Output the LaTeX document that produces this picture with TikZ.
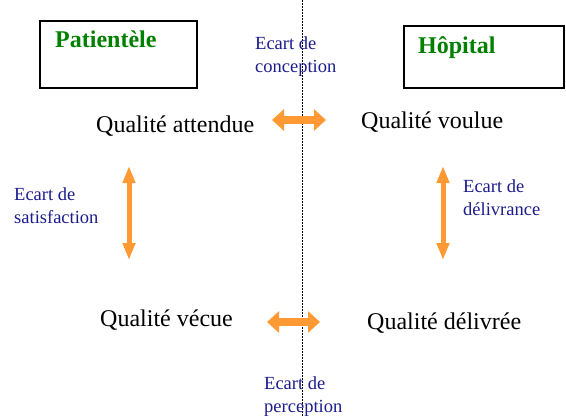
\documentclass[tikz,border=0pt]{standalone}
\usepackage{fontspec}
\setmainfont{Liberation Serif}
\usetikzlibrary{arrows.meta}
\definecolor{ecartblue}{RGB}{28,28,140}
\definecolor{flecheorange}{RGB}{255,153,51}
\definecolor{titregreen}{RGB}{0,128,0}

\begin{document}
\begin{tikzpicture}[
    x=1pt,y=-1pt,
    cadre/.style={draw=black,line width=2.6pt},
    titre/.style={anchor=base west,inner sep=0pt,text=titregreen,font=\fontsize{24}{28}\selectfont\bfseries},
    qualite/.style={anchor=base west,inner sep=0pt,font=\fontsize{24}{28}\selectfont},
    ecart/.style={anchor=base west,inner sep=0pt,align=left,text=ecartblue,font=\fontsize{18.5}{23}\selectfont},
    hfleche/.style={flecheorange,line width=8pt,{Triangle[length=12pt,width=21pt]}-{Triangle[length=12pt,width=21pt]}},
    vfleche/.style={flecheorange,line width=5pt,{Triangle[length=17pt,width=12pt]}-{Triangle[length=17pt,width=12pt]}}
  ]
  \useasboundingbox (0,0) rectangle (566,416);

  % the two boxes
  \draw[cadre] (40,21) rectangle (197,88);
  \draw[cadre] (404,26) rectangle (564,88);
  \node[titre] (patientele) at (55,47) {Patientèle};
  \node[titre] (hopital) at (418,53) {Hôpital};

  % separation
  \coordinate (haut) at (302.5,0);
  \coordinate (bas) at (302.5,416);
  \draw[black,line width=1.6pt,dash pattern=on 1.6pt off 1.4pt] (haut) -- (bas);

  \node[qualite] (attendue) at (96,132) {Qualité attendue};
  \node[qualite] (voulue) at (361,128) {Qualité voulue};
  \node[qualite] (vecue) at (100,326) {Qualité vécue};
  \node[qualite] (delivree) at (367,329) {Qualité délivrée};

  % base = last line
  \node[ecart] (conception) at (255,72) {Ecart de\\conception};
  \node[ecart] (satisfaction) at (14,223) {Ecart de\\satisfaction};
  \node[ecart] (delivrance) at (463,215) {Ecart de\\délivrance};
  \node[ecart] (perception) at (264,412) {Ecart de\\perception};

  % arrows
  \coordinate (c1) at (272,120);
  \coordinate (c2) at (326,120);
  \draw[hfleche] (c1) -- (c2);
  \coordinate (p1) at (267,322);
  \coordinate (p2) at (320,322);
  \draw[hfleche] (p1) -- (p2);
  \coordinate (s1) at (129,166);
  \coordinate (s2) at (129,260);
  \draw[vfleche] (s1) -- (s2);
  \coordinate (d1) at (443,166);
  \coordinate (d2) at (443,260);
  \draw[vfleche] (d1) -- (d2);

\end{tikzpicture}
\end{document}
